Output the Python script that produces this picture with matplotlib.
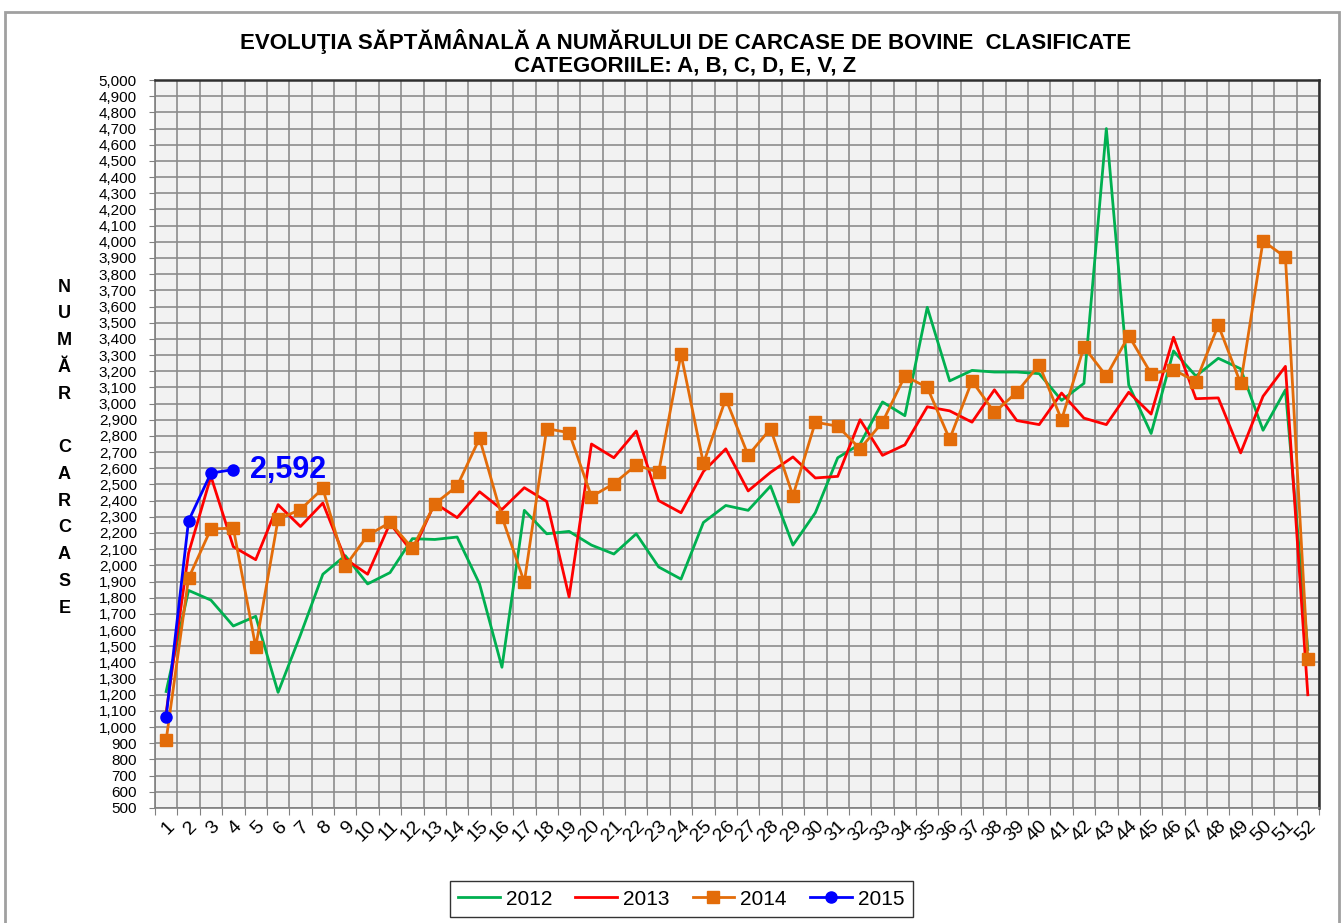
import numpy as np
import matplotlib
matplotlib.use("Agg")
import matplotlib.pyplot as plt
from matplotlib.patches import Rectangle

plt.rcParams['font.family'] = ['Liberation Sans', 'DejaVu Sans']

# weekly number of classified bovine carcasses
weeks = list(range(1, 53))
y2012 = [1220, 1845, 1785, 1625, 1685, 1215, 1570, 1945, 2060, 1885, 1955, 2165, 2160,
         2175, 1885, 1370, 2340, 2195, 2210, 2125, 2070, 2195, 1990, 1915, 2265, 2370,
         2340, 2490, 2125, 2325, 2665, 2750, 3010, 2925, 3595, 3140, 3205, 3195, 3195,
         3185, 3020, 3125, 4700, 3115, 2815, 3325, 3170, 3280, 3215, 2835, 3085, 1480]
y2013 = [1090, 2075, 2550, 2115, 2035, 2375, 2240, 2385, 2040, 1945, 2260, 2080, 2385,
         2295, 2455, 2345, 2480, 2395, 1805, 2750, 2665, 2830, 2400, 2325, 2580, 2720,
         2460, 2575, 2670, 2540, 2550, 2900, 2680, 2745, 2980, 2955, 2885, 3085, 2895,
         2870, 3065, 2910, 2870, 3070, 2935, 3410, 3030, 3035, 2695, 3045, 3230, 1200]
y2014 = [920, 1920, 2225, 2230, 1495, 2285, 2345, 2475, 1995, 2185, 2265, 2105, 2380,
         2490, 2785, 2300, 1895, 2845, 2820, 2425, 2505, 2620, 2575, 3305, 2630, 3030,
         2680, 2845, 2430, 2885, 2860, 2720, 2885, 3170, 3100, 2780, 3140, 2945, 3070,
         3240, 2900, 3350, 3170, 3420, 3185, 3210, 3135, 3485, 3125, 4005, 3905, 1420]
y2015 = [1065, 2275, 2570, 2592]

series = [("2012", y2012, "#00B050", None),
          ("2013", y2013, "#FF0000", None),
          ("2014", y2014, "#E36C09", "s"),
          ("2015", y2015, "#0000FF", "o")]

fig = plt.figure(figsize=(13.44, 9.23), dpi=100)
ax = fig.add_axes([0.1153, 0.1246, 0.8661, 0.7887])
ax.set_facecolor("#F2F2F2")

for name, vals, col, mk in series:
    x = weeks[:len(vals)]
    ax.plot(x, vals, color=col, lw=2.0, marker=mk, markersize=9 if mk == "s" else 8,
            markeredgecolor=col, label=name, zorder=3)

# label on last 2015 point
ax.annotate(f"{y2015[-1]:,}", xy=(len(y2015), y2015[-1]), xytext=(12, 0),
            textcoords="offset points", color="#0000FF", fontsize=22,
            fontweight="bold", va="center", ha="left")

ax.set_xlim(0.5, 52.5)
ax.set_ylim(500, 5000)
ax.set_yticks(np.arange(500, 5001, 100))
ax.set_yticklabels([f"{v:,}" for v in range(500, 5001, 100)], fontsize=11)
ax.set_xticks(np.arange(0.5, 53, 1))
ax.set_xticklabels([])
ax.set_xticks(weeks, minor=True)
ax.set_xticklabels([str(w) for w in weeks], minor=True, rotation=45, fontsize=14,
                   ha="right", va="top", rotation_mode="anchor")
ax.tick_params(axis="x", which="minor", length=0, pad=7)
ax.tick_params(axis="x", which="major", length=5, color="#808080")
ax.tick_params(axis="y", length=4, color="#808080", pad=9)
ax.grid(True, which="major", color="#8C8C8C", lw=1.2)
ax.set_axisbelow(True)
for s in ["left", "bottom"]:
    ax.spines[s].set_color("#808080")
    ax.spines[s].set_linewidth(1.2)
for s in ["top", "right"]:
    ax.spines[s].set_color("#303030")
    ax.spines[s].set_linewidth(1.8)

fig.text(0.51, 0.955, "EVOLUŢIA SĂPTĂMÂNALĂ A NUMĂRULUI DE CARCASE DE BOVINE  CLASIFICATE",
         ha="center", va="center", fontsize=16, fontweight="bold")
fig.text(0.51, 0.929, "CATEGORIILE: A, B, C, D, E, V, Z",
         ha="center", va="center", fontsize=16, fontweight="bold")

ylab = "NUMĂR CARCASE"
fig.text(0.048, 0.515, "\n".join(ylab), ha="center", va="center", fontsize=13,
         fontweight="bold", linespacing=1.75)

ax.legend(loc="upper center", bbox_to_anchor=(0.452, -0.092), ncol=4, fontsize=15,
          frameon=True, fancybox=False, edgecolor="black", handlelength=2.0,
          columnspacing=1.1, handletextpad=0.3, borderpad=0.4, borderaxespad=0.3)

fig.patches.append(Rectangle((0.004, -0.01), 0.992, 0.997, transform=fig.transFigure,
                             fill=False, edgecolor="#A0A0A0", lw=2))

fig.savefig("out.png", dpi=100)
